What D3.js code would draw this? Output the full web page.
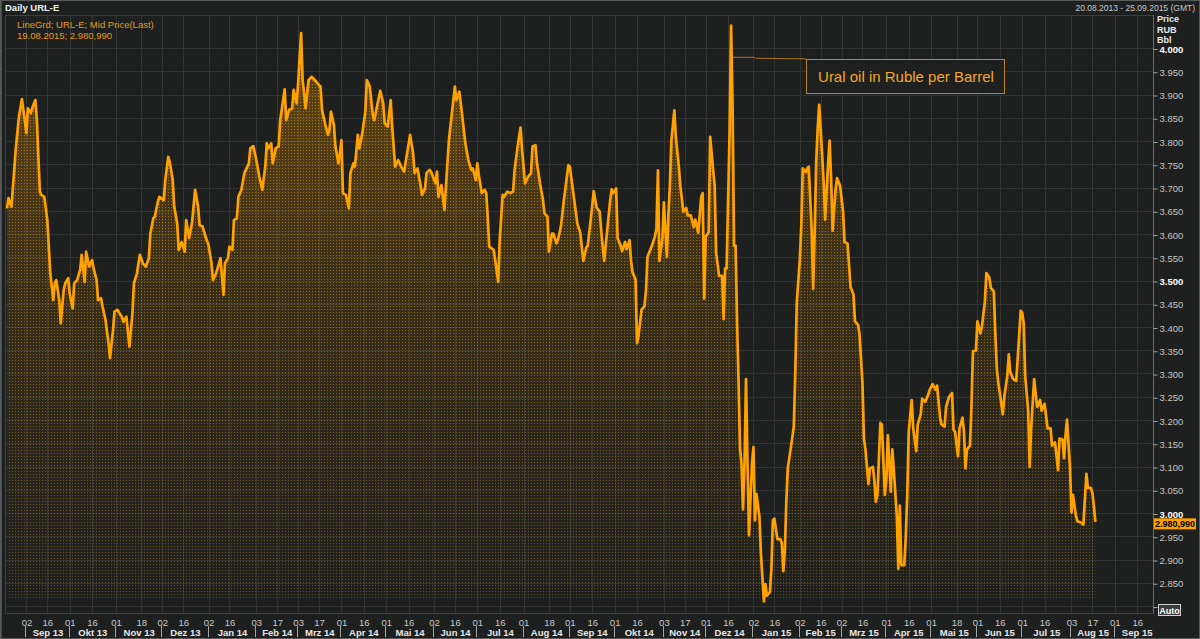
<!DOCTYPE html>
<html>
<head>
<meta charset="utf-8">
<script src="https://cdn.jsdelivr.net/npm/d3@7"></script>
<style>
body { margin: 0; background: #1e201f; }
svg { display: block; }
text { font-family: "Liberation Sans", Arial, sans-serif; }
</style>
</head>
<body>
<svg id="chart" width="1200" height="639"></svg>
<script>
// Ural oil price in RUB per barrel, daily
const series = [
["2013-08-20",3655],["2013-08-21",3677],["2013-08-23",3659],["2013-08-24",3702],["2013-08-26",3788],["2013-08-28",3852],["2013-08-30",3890],["2013-08-31",3867],
["2013-09-02",3817],["2013-09-03",3870],["2013-09-05",3860],["2013-09-06",3872],["2013-09-08",3888],["2013-09-09",3845],["2013-09-11",3691],["2013-09-12",3684],["2013-09-14",3680],["2013-09-16",3630],["2013-09-18",3515],["2013-09-20",3458],["2013-09-21",3494],["2013-09-22",3501],["2013-09-24",3458],["2013-09-25",3408],["2013-09-27",3480],["2013-09-28",3494],["2013-09-30",3505],
["2013-10-01",3472],["2013-10-03",3440],["2013-10-04",3494],["2013-10-06",3501],["2013-10-08",3523],["2013-10-09",3555],["2013-10-11",3497],["2013-10-12",3562],["2013-10-14",3530],["2013-10-16",3544],["2013-10-17",3526],["2013-10-19",3501],["2013-10-20",3458],["2013-10-22",3462],["2013-10-23",3444],["2013-10-25",3415],["2013-10-27",3365],["2013-10-28",3333],["2013-10-30",3394],["2013-10-31",3433],
["2013-11-02",3437],["2013-11-04",3426],["2013-11-05",3422],["2013-11-06",3411],["2013-11-08",3422],["2013-11-09",3390],["2013-11-10",3358],["2013-11-12",3429],["2013-11-13",3494],["2013-11-15",3515],["2013-11-17",3555],["2013-11-19",3537],["2013-11-21",3530],["2013-11-23",3548],["2013-11-24",3601],["2013-11-26",3634],["2013-11-27",3637],["2013-11-29",3669],["2013-11-30",3680],
["2013-12-03",3673],["2013-12-04",3716],["2013-12-06",3766],["2013-12-07",3755],["2013-12-09",3716],["2013-12-10",3659],["2013-12-12",3623],["2013-12-13",3566],["2013-12-15",3583],["2013-12-17",3562],["2013-12-18",3630],["2013-12-20",3591],["2013-12-22",3626],["2013-12-24",3695],["2013-12-26",3659],["2013-12-27",3619],["2013-12-29",3616],["2013-12-31",3594],
["2014-01-02",3576],["2014-01-04",3537],["2014-01-05",3501],["2014-01-07",3515],["2014-01-09",3537],["2014-01-10",3548],["2014-01-12",3469],["2014-01-13",3537],["2014-01-15",3548],["2014-01-16",3573],["2014-01-18",3566],["2014-01-19",3630],["2014-01-21",3634],["2014-01-22",3680],["2014-01-24",3695],["2014-01-26",3731],["2014-01-29",3752],["2014-01-30",3784],
["2014-02-01",3789],["2014-02-03",3759],["2014-02-05",3723],["2014-02-07",3695],["2014-02-09",3745],["2014-02-10",3795],["2014-02-11",3784],["2014-02-13",3795],["2014-02-14",3752],["2014-02-16",3784],["2014-02-18",3789],["2014-02-19",3845],["2014-02-22",3911],["2014-02-23",3845],["2014-02-25",3867],["2014-02-27",3870],["2014-02-28",3910],
["2014-03-02",3881],["2014-03-03",3924],["2014-03-05",4032],["2014-03-06",3931],["2014-03-07",3903],["2014-03-08",3870],["2014-03-10",3931],["2014-03-12",3938],["2014-03-13",3935],["2014-03-15",3928],["2014-03-17",3920],["2014-03-18",3917],["2014-03-19",3867],["2014-03-21",3838],["2014-03-23",3813],["2014-03-24",3824],["2014-03-25",3863],["2014-03-27",3834],["2014-03-28",3788],["2014-03-30",3752],["2014-03-31",3774],
["2014-04-01",3802],["2014-04-02",3688],["2014-04-04",3684],["2014-04-06",3655],["2014-04-07",3731],["2014-04-09",3752],["2014-04-10",3745],["2014-04-12",3813],["2014-04-13",3784],["2014-04-15",3817],["2014-04-17",3863],["2014-04-18",3931],["2014-04-20",3917],["2014-04-22",3856],["2014-04-23",3845],["2014-04-25",3877],["2014-04-27",3908],["2014-04-29",3881],["2014-04-30",3838],
["2014-05-02",3831],["2014-05-04",3888],["2014-05-05",3831],["2014-05-07",3745],["2014-05-09",3759],["2014-05-11",3745],["2014-05-13",3734],["2014-05-15",3774],["2014-05-17",3813],["2014-05-19",3774],["2014-05-20",3731],["2014-05-22",3741],["2014-05-24",3705],["2014-05-25",3684],["2014-05-27",3698],["2014-05-28",3731],["2014-05-30",3738],["2014-05-31",3734],
["2014-06-03",3709],["2014-06-04",3734],["2014-06-05",3680],["2014-06-07",3705],["2014-06-09",3652],["2014-06-10",3702],["2014-06-12",3802],["2014-06-14",3860],["2014-06-16",3917],["2014-06-17",3888],["2014-06-19",3906],["2014-06-21",3852],["2014-06-23",3795],["2014-06-25",3759],["2014-06-27",3738],["2014-06-28",3741],["2014-06-30",3716],
["2014-07-01",3752],["2014-07-02",3727],["2014-07-04",3688],["2014-07-06",3695],["2014-07-07",3688],["2014-07-08",3637],["2014-07-09",3573],["2014-07-12",3566],["2014-07-13",3544],["2014-07-15",3497],["2014-07-16",3587],["2014-07-18",3684],["2014-07-19",3680],["2014-07-21",3691],["2014-07-23",3688],["2014-07-25",3691],["2014-07-26",3738],["2014-07-28",3788],["2014-07-30",3829],["2014-07-31",3781],
["2014-08-02",3709],["2014-08-04",3723],["2014-08-06",3731],["2014-08-07",3788],["2014-08-09",3791],["2014-08-10",3752],["2014-08-12",3709],["2014-08-14",3673],["2014-08-15",3645],["2014-08-17",3637],["2014-08-18",3562],["2014-08-20",3601],["2014-08-21",3601],["2014-08-23",3580],["2014-08-24",3587],["2014-08-26",3616],["2014-08-28",3673],["2014-08-30",3723],["2014-08-31",3748],
["2014-09-01",3745],["2014-09-03",3696],["2014-09-04",3672],["2014-09-06",3623],["2014-09-08",3603],["2014-09-10",3542],["2014-09-12",3571],["2014-09-13",3575],["2014-09-15",3631],["2014-09-17",3692],["2014-09-19",3656],["2014-09-21",3648],["2014-09-22",3607],["2014-09-24",3542],["2014-09-26",3607],["2014-09-28",3672],["2014-09-29",3696],["2014-09-30",3688],
["2014-10-02",3698],["2014-10-03",3591],["2014-10-05",3575],["2014-10-06",3563],["2014-10-08",3583],["2014-10-09",3567],["2014-10-11",3587],["2014-10-12",3542],["2014-10-13",3518],["2014-10-15",3502],["2014-10-16",3365],["2014-10-17",3381],["2014-10-19",3437],["2014-10-21",3445],["2014-10-22",3478],["2014-10-23",3551],["2014-10-26",3575],["2014-10-28",3595],["2014-10-29",3611],["2014-10-30",3737],["2014-10-31",3542],
["2014-11-02",3591],["2014-11-03",3668],["2014-11-05",3551],["2014-11-06",3640],["2014-11-07",3704],["2014-11-08",3801],["2014-11-10",3866],["2014-11-11",3809],["2014-11-13",3745],["2014-11-14",3704],["2014-11-16",3648],["2014-11-18",3656],["2014-11-19",3640],["2014-11-21",3640],["2014-11-23",3615],["2014-11-24",3631],["2014-11-26",3603],["2014-11-28",3680],["2014-11-29",3688],["2014-11-30",3461],
["2014-12-01",3595],["2014-12-03",3603],["2014-12-04",3809],["2014-12-06",3737],["2014-12-07",3704],["2014-12-08",3559],["2014-12-10",3510],["2014-12-12",3510],["2014-12-13",3417],["2014-12-14",3526],["2014-12-15",3526],["2014-12-16",3672],["2014-12-17",3817],["2014-12-18",4048],["2014-12-19",3874],["2014-12-20",3575],["2014-12-21",3575],["2014-12-22",3413],["2014-12-23",3283],["2014-12-24",3138],["2014-12-25",3106],["2014-12-26",3008],["2014-12-27",3106],["2014-12-28",3288],["2014-12-29",3106],["2014-12-30",2952],
["2015-01-01",3106],["2015-01-02",3142],["2015-01-03",2984],["2015-01-04",3041],["2015-01-06",2992],["2015-01-07",2911],["2015-01-09",2810],["2015-01-10",2847],["2015-01-11",2822],["2015-01-13",2830],["2015-01-14",2879],["2015-01-15",2984],["2015-01-16",2988],["2015-01-18",2944],["2015-01-20",2944],["2015-01-21",2935],["2015-01-22",2875],["2015-01-23",2919],["2015-01-24",3025],["2015-01-25",3097],["2015-01-26",3118],["2015-01-28",3162],["2015-01-29",3186],["2015-01-30",3300],["2015-01-31",3453],
["2015-02-02",3542],["2015-02-03",3615],["2015-02-04",3741],["2015-02-06",3733],["2015-02-07",3741],["2015-02-08",3745],["2015-02-10",3607],["2015-02-11",3482],["2015-02-12",3607],["2015-02-13",3753],["2015-02-14",3826],["2015-02-15",3878],["2015-02-16",3826],["2015-02-17",3769],["2015-02-18",3712],["2015-02-19",3631],["2015-02-21",3753],["2015-02-22",3801],["2015-02-23",3720],["2015-02-24",3607],["2015-02-26",3696],["2015-02-27",3720],
["2015-03-01",3704],["2015-03-03",3648],["2015-03-04",3583],["2015-03-06",3579],["2015-03-07",3534],["2015-03-08",3486],["2015-03-10",3470],["2015-03-11",3412],["2015-03-13",3405],["2015-03-14",3385],["2015-03-16",3280],["2015-03-17",3160],["2015-03-18",3137],["2015-03-20",3062],["2015-03-21",3096],["2015-03-23",3099],["2015-03-24",3069],["2015-03-25",3024],["2015-03-26",3039],["2015-03-28",3194],["2015-03-29",3190],["2015-03-31",3039],
["2015-04-01",3069],["2015-04-02",3167],["2015-04-04",3046],["2015-04-05",3137],["2015-04-06",3092],["2015-04-08",2994],["2015-04-09",2880],["2015-04-10",3016],["2015-04-11",2888],["2015-04-13",2888],["2015-04-14",2948],["2015-04-15",3039],["2015-04-16",3175],["2015-04-18",3243],["2015-04-19",3182],["2015-04-21",3133],["2015-04-22",3190],["2015-04-24",3212],["2015-04-25",3246],["2015-04-27",3239],["2015-04-29",3254],["2015-04-30",3265],
["2015-05-02",3277],["2015-05-04",3265],["2015-05-05",3274],["2015-05-07",3205],["2015-05-08",3190],["2015-05-10",3186],["2015-05-11",3228],["2015-05-13",3250],["2015-05-15",3258],["2015-05-16",3179],["2015-05-17",3175],["2015-05-19",3122],["2015-05-20",3182],["2015-05-22",3205],["2015-05-23",3175],["2015-05-24",3096],["2015-05-25",3137],["2015-05-27",3145],["2015-05-28",3228],["2015-05-29",3348],["2015-05-31",3349],
["2015-06-01",3412],["2015-06-03",3386],["2015-06-04",3401],["2015-06-06",3454],["2015-06-07",3516],["2015-06-09",3506],["2015-06-10",3484],["2015-06-12",3476],["2015-06-13",3386],["2015-06-14",3310],["2015-06-15",3280],["2015-06-16",3258],["2015-06-18",3212],["2015-06-19",3250],["2015-06-21",3295],["2015-06-22",3341],["2015-06-23",3303],["2015-06-25",3288],["2015-06-27",3284],["2015-06-28",3333],["2015-06-30",3435],
["2015-07-01",3431],["2015-07-02",3408],["2015-07-03",3295],["2015-07-05",3220],["2015-07-06",3099],["2015-07-07",3182],["2015-07-09",3288],["2015-07-10",3258],["2015-07-11",3228],["2015-07-13",3243],["2015-07-14",3220],["2015-07-16",3235],["2015-07-18",3182],["2015-07-20",3182],["2015-07-21",3145],["2015-07-23",3152],["2015-07-25",3092],["2015-07-26",3160],["2015-07-28",3158],["2015-07-29",3118],["2015-07-30",3167],["2015-07-31",3201],
["2015-08-02",3099],["2015-08-03",3001],["2015-08-04",3039],["2015-08-06",2994],["2015-08-07",2982],["2015-08-09",2980],["2015-08-11",2975],["2015-08-12",3031],["2015-08-13",3084],["2015-08-14",3054],["2015-08-16",3054],["2015-08-17",3043],["2015-08-18",3016],["2015-08-19",2980.99]
];

// bottom axis: day ticks and month rows
const dayTicks = [
"2013-09-02","2013-09-16","2013-10-01","2013-10-16","2013-11-01","2013-11-18","2013-12-02","2013-12-16",
"2014-01-02","2014-01-16","2014-02-03","2014-02-17","2014-03-03","2014-03-17","2014-04-01","2014-04-16",
"2014-05-01","2014-05-16","2014-06-02","2014-06-16","2014-07-01","2014-07-16","2014-08-01","2014-08-18",
"2014-09-01","2014-09-16","2014-10-01","2014-10-16","2014-11-03","2014-11-17","2014-12-01","2014-12-16",
"2015-01-02","2015-01-16","2015-02-02","2015-02-16","2015-03-02","2015-03-16","2015-04-01","2015-04-16",
"2015-05-01","2015-05-18","2015-06-01","2015-06-16","2015-07-01","2015-07-16","2015-08-03","2015-08-17",
"2015-09-01","2015-09-16"
];
const monthStarts = [
"2013-09-02","2013-10-01","2013-11-01","2013-12-02","2014-01-02","2014-02-03","2014-03-03","2014-04-01",
"2014-05-01","2014-06-02","2014-07-01","2014-08-01","2014-09-01","2014-10-01","2014-11-03","2014-12-01",
"2015-01-02","2015-02-02","2015-03-02","2015-04-01","2015-05-01","2015-06-01","2015-07-01","2015-08-03",
"2015-09-01","2015-10-01"
];
const monthLabels = [
"Sep 13","Okt 13","Nov 13","Dez 13","Jan 14","Feb 14","Mrz 14","Apr 14","Mai 14","Jun 14","Jul 14","Aug 14",
"Sep 14","Okt 14","Nov 14","Dez 14","Jan 15","Feb 15","Mrz 15","Apr 15","Mai 15","Jun 15","Jul 15","Aug 15","Sep 15"
];
const priceTicks = [2800,2850,2900,2950,3000,3050,3100,3150,3200,3250,3300,3350,3400,3450,3500,
  3550,3600,3650,3700,3750,3800,3850,3900,3950,4000];

var parseDate = d3.timeParse("%Y-%m-%d");
var data = series.map(d => ({date: parseDate(d[0]), value: d[1]}));
var last = data[data.length - 1];
var peak = data.filter(d => d.date > parseDate("2014-12-01")).sort((a, b) => b.value - a.value)[0];

var de = d3.formatLocale({decimal: ",", thousands: ".", grouping: [3], currency: ["", " RUB"]});
var fmtTick = de.format(",.0f");
var fmtLast = de.format(",.3f");

var L = 5, R = 1153, T = 15, B = 613;
var x = d3.scaleTime().domain([parseDate("2013-08-20"), parseDate("2015-09-25")]).range([7, 1150.6]);
var y = d3.scaleLinear().domain([2800, 4000]).range([606, 48]);

var svg = d3.select("#chart");
var defs = svg.append("defs");

defs.append("clipPath").attr("id", "plotclip")
  .append("rect").attr("x", L).attr("y", T).attr("width", R - L).attr("height", B - T);

var grad = defs.append("linearGradient").attr("id", "areagrad")
  .attr("gradientUnits", "userSpaceOnUse").attr("x1", 0).attr("x2", 0).attr("y1", 30).attr("y2", 600);
grad.append("stop").attr("offset", 0).attr("stop-color", "#e08c00").attr("stop-opacity", 0.36);
grad.append("stop").attr("offset", 0.45).attr("stop-color", "#d08000").attr("stop-opacity", 0.15);
grad.append("stop").attr("offset", 1).attr("stop-color", "#c07800").attr("stop-opacity", 0.0);

// dots fade out towards the bottom
var mgrad = defs.append("linearGradient").attr("id", "maskgrad")
  .attr("gradientUnits", "userSpaceOnUse").attr("x1", 0).attr("x2", 0).attr("y1", 30).attr("y2", 600);
mgrad.append("stop").attr("offset", 0).attr("stop-color", "#fff").attr("stop-opacity", 0.85);
mgrad.append("stop").attr("offset", 1).attr("stop-color", "#fff").attr("stop-opacity", 0.4);
defs.append("mask").attr("id", "dotmask").attr("maskUnits", "userSpaceOnUse")
  .attr("x", 0).attr("y", 0).attr("width", 1200).attr("height", 639)
  .append("rect").attr("width", 1200).attr("height", 639).attr("fill", "url(#maskgrad)");

var pat = defs.append("pattern").attr("id", "dots")
  .attr("patternUnits", "userSpaceOnUse").attr("width", 3).attr("height", 3);
pat.append("rect").attr("width", 1).attr("height", 1).attr("fill", "#c88608");

// outer frame
svg.append("rect").attr("x", 0.5).attr("y", 0.5).attr("width", 1199).attr("height", 638)
  .attr("fill", "#1e201f").attr("stroke", "#5a5c5b");
svg.append("line").attr("x1", 1.5).attr("x2", 1.5).attr("y1", 0).attr("y2", 639).attr("stroke", "#4a4c4b");

// header
svg.append("text").attr("x", 5).attr("y", 11).attr("fill", "#f0f0f0")
  .style("font-size", "9.5px").style("font-weight", "bold").text("Daily URL-E");
svg.append("text").attr("x", 1195).attr("y", 11).attr("text-anchor", "end").attr("fill", "#c8c8c8")
  .style("font-size", "8.5px").text("20.08.2013 - 25.09.2015 (GMT)");

// grid
var grid = svg.append("g");
grid.selectAll(".hg").data(priceTicks).enter().append("line")
  .attr("x1", L).attr("x2", R).attr("y1", d => Math.round(y(d)) + 0.5).attr("y2", d => Math.round(y(d)) + 0.5)
  .attr("stroke", "#313432");
grid.selectAll(".vg").data(dayTicks).enter().append("line")
  .attr("x1", d => Math.round(x(parseDate(d))) + 0.5).attr("x2", d => Math.round(x(parseDate(d))) + 0.5)
  .attr("y1", T).attr("y2", B)
  .attr("stroke", "#313432");
svg.append("rect").attr("x", L + 0.5).attr("y", T + 0.5).attr("width", R - L).attr("height", B - T)
  .attr("fill", "none").attr("stroke", "#3e403f");

// area + line
var plot = svg.append("g").attr("clip-path", "url(#plotclip)");
var area = d3.area().x(d => x(d.date)).y0(y(2813)).y1(d => y(d.value));
plot.append("path").datum(data).attr("d", area).attr("fill", "url(#areagrad)");
plot.append("path").datum(data).attr("d", area).attr("fill", "url(#dots)").attr("mask", "url(#dotmask)");
plot.append("path").datum(data)
  .attr("d", d3.line().x(d => x(d.date)).y(d => y(d.value)))
  .attr("fill", "none").attr("stroke", "#ffa200").attr("stroke-width", 2.7)
  .attr("stroke-linejoin", "round");

// legend text
svg.append("text").attr("x", 17).attr("y", 28).attr("fill", "#e39a16").style("font-size", "9.5px")
  .text("LineGrd; URL-E; Mid Price(Last)");
svg.append("text").attr("x", 17).attr("y", 38.5).attr("fill", "#e39a16").style("font-size", "9.5px")
  .text(d3.timeFormat("%d.%m.%Y")(last.date) + "; " + fmtLast(last.value));

// annotation
var px = x(peak.date) + 1.5, py = y(3980);
svg.append("polyline")
  .attr("points", [[px, py], [px + 22, py], [px + 23, py + 1], [806, py + 1.5]].map(p => p.join(",")).join(" "))
  .attr("fill", "none").attr("stroke", "#a87318");
svg.append("rect").attr("x", 806.5).attr("y", 59.5).attr("width", 198).attr("height", 34)
  .attr("fill", "#1f2120").attr("stroke", "#b98326");
svg.append("text").attr("x", 906).attr("y", 82).attr("text-anchor", "middle").attr("fill", "#f5a623")
  .style("font-size", "15px").text("Ural oil in Ruble per Barrel");

// right axis
var yAxis = d3.axisRight(y).tickValues(priceTicks).tickSize(4).tickPadding(2)
  .tickFormat(d => d === 2800 ? "" : fmtTick(d));
var ya = svg.append("g").attr("transform", "translate(" + (R + 0.5) + ",1)").call(yAxis);
ya.select(".domain").attr("stroke", "#6a6c6b").attr("d", "M0," + (T - 1) + "V" + (B - 1));
ya.selectAll(".tick line").attr("stroke", "#a0a0a0");
ya.selectAll(".tick text")
  .attr("fill", d => d % 500 === 0 ? "#ffffff" : "#c4c4c4")
  .style("font-weight", d => d % 500 === 0 ? "bold" : "normal")
  .style("font-size", "9.5px")
  .style("font-family", "'Liberation Sans', Arial, sans-serif");

["Price", "RUB", "Bbl"].forEach(function(t, i) {
  svg.append("text").attr("x", 1157).attr("y", 22 + i * 10.5).attr("fill", "#e8e8e8")
    .style("font-size", "9px").style("font-weight", "bold").text(t);
});

// last value marker
var ly = y(last.value);
svg.append("rect").attr("x", 1154).attr("y", ly - 3.5).attr("width", 42).attr("height", 11)
  .attr("fill", "#ffa200");
svg.append("text").attr("x", 1175).attr("y", ly + 5.5).attr("text-anchor", "middle")
  .attr("fill", "#000").style("font-size", "9px").style("font-weight", "bold").text(fmtLast(last.value));

// Auto button
svg.append("rect").attr("x", 1158.5).attr("y", 604.5).attr("width", 22).attr("height", 11)
  .attr("fill", "#3b3d3c").attr("stroke", "#d0d0d0");
svg.append("text").attr("x", 1169.5).attr("y", 613.5).attr("text-anchor", "middle").attr("fill", "#ffffff")
  .style("font-size", "9px").style("font-weight", "bold").text("Auto");

// bottom axis: day numbers
var xAxis = d3.axisBottom(x).tickValues(dayTicks.map(parseDate)).tickSize(0).tickPadding(6)
  .tickFormat(d3.timeFormat("%d"));
var xa = svg.append("g").attr("transform", "translate(0," + B + ")").call(xAxis);
xa.select(".domain").remove();
xa.selectAll(".tick text").attr("fill", "#c8c8c8").style("font-size", "9.5px")
  .style("font-family", "'Liberation Sans', Arial, sans-serif");

// month row
var ms = monthStarts.map(parseDate);
svg.selectAll(".msep").data(ms.slice(0, ms.length - 1)).enter().append("line")
  .attr("x1", d => Math.round(x(d)) - 0.5).attr("x2", d => Math.round(x(d)) - 0.5)
  .attr("y1", 626).attr("y2", 637).attr("stroke", "#a8a8a8");
svg.selectAll(".mlab").data(monthLabels).enter().append("text")
  .attr("x", (d, i) => (x(ms[i]) + x(ms[i + 1])) / 2)
  .attr("y", 635.5).attr("text-anchor", "middle").attr("fill", "#e6e6e6")
  .style("font-size", "9.5px").style("font-weight", "bold").text(d => d);
</script>
</body>
</html>
